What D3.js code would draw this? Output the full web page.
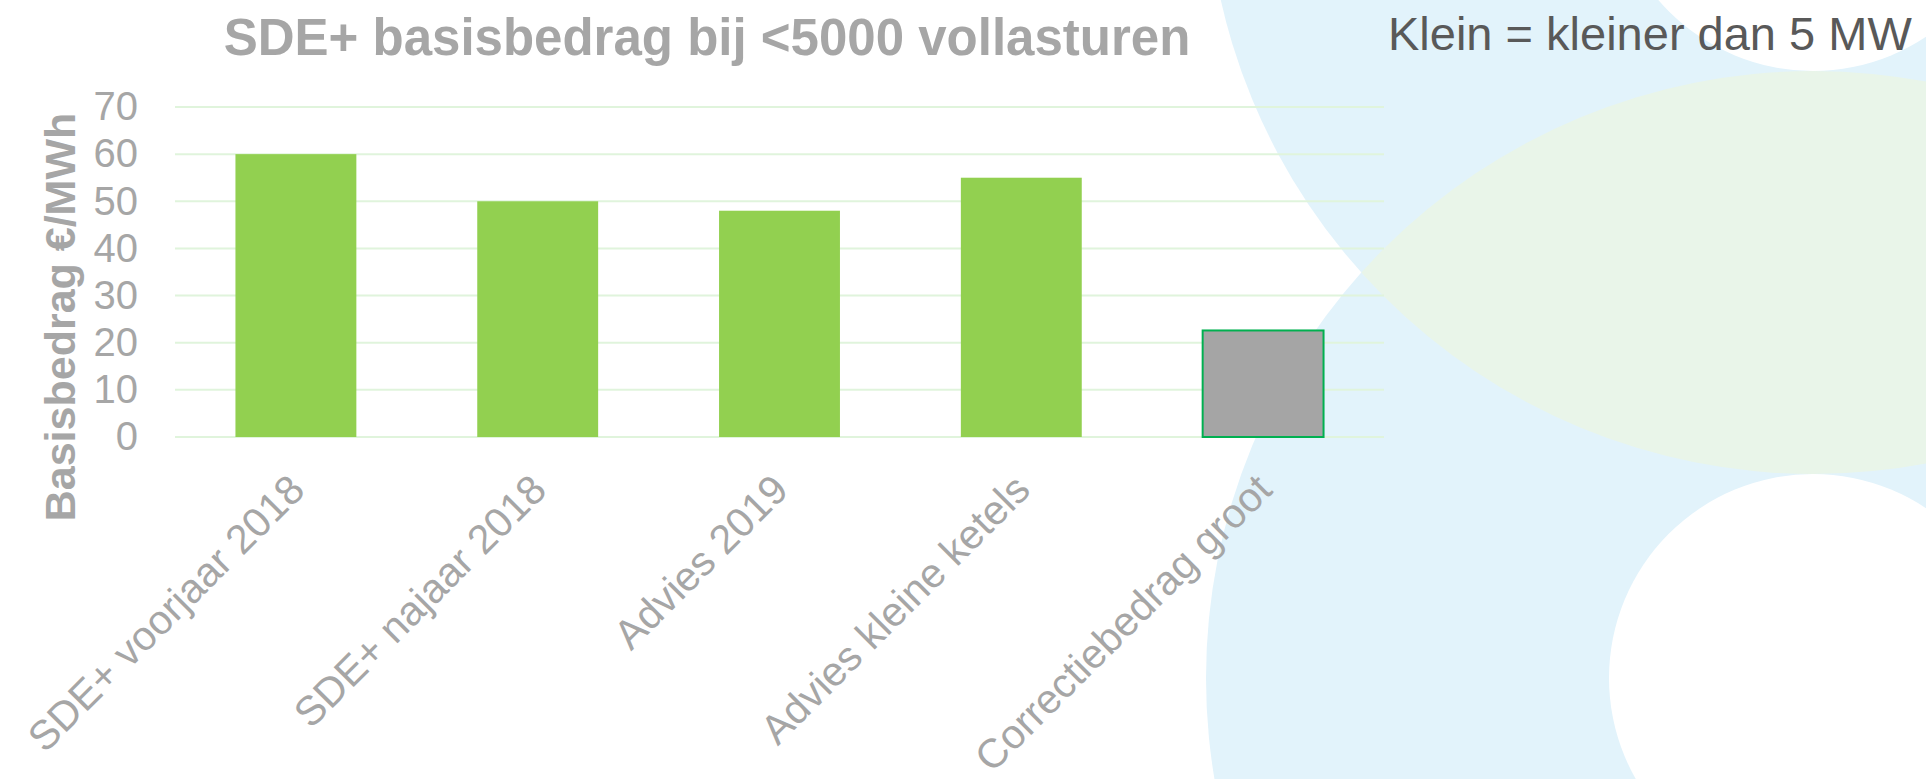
<!DOCTYPE html>
<html>
<head>
<meta charset="utf-8">
<script src="https://cdn.jsdelivr.net/npm/d3@7"></script>
<style>
  body { margin: 0; background: #fff; }
  svg { display: block; font-family: "Liberation Sans", Arial, sans-serif; }
</style>
</head>
<body>
<div id="chart"></div>
<script>
var categories = ["SDE+ voorjaar 2018", "SDE+ najaar 2018", "Advies 2019", "Advies kleine ketels", "Correctiebedrag groot"];
var values = [60, 50, 48, 55, 22.6];
var barColors = ["#92d050", "#92d050", "#92d050", "#92d050", "#a5a5a5"];
var yTicks = [0, 10, 20, 30, 40, 50, 60, 70];

var width = 1926,
    height = 779;

var svg = d3.select("#chart")
    .append("svg")
    .attr("width", width)
    .attr("height", height);

// background decoration: two rings and the lens where they overlap
var deco = { cx: 1813, top: -133, bottom: 678, r: 607, inner: 204 };
var defs = svg.append("defs");
defs.append("clipPath").attr("id", "upperClip")
    .append("circle").attr("cx", deco.cx).attr("cy", deco.top).attr("r", deco.r);

svg.append("circle").attr("cx", deco.cx).attr("cy", deco.top).attr("r", deco.r).style("fill", "#e2f3fb");
svg.append("circle").attr("cx", deco.cx).attr("cy", deco.bottom).attr("r", deco.r).style("fill", "#e2f3fb");
svg.append("circle").attr("cx", deco.cx).attr("cy", deco.bottom).attr("r", deco.r)
    .attr("clip-path", "url(#upperClip)").style("fill", "#e9f5e9");
svg.append("circle").attr("cx", deco.cx).attr("cy", deco.top).attr("r", deco.inner).style("fill", "#fff");
svg.append("circle").attr("cx", deco.cx).attr("cy", deco.bottom).attr("r", deco.inner).style("fill", "#fff");

var plotLeft = 175, plotRight = 1384, plotTop = 107, plotBottom = 437;

var xScale = d3.scaleBand()
    .domain(categories)
    .range([plotLeft, plotRight])
    .paddingInner(0.5)
    .paddingOuter(0.25);

var yScale = d3.scaleLinear().domain([0, 70]).range([plotBottom, plotTop]);

// gridlines
svg.append("g")
    .selectAll("line")
    .data(yTicks)
    .enter()
    .append("line")
    .attr("x1", plotLeft)
    .attr("x2", plotRight)
    .attr("y1", function (d) { return yScale(d); })
    .attr("y2", function (d) { return yScale(d); })
    .style("stroke", "#e0f4dc")
    .style("stroke-width", 2);

// y axis labels
var yAxis = d3.axisLeft(yScale).tickValues(yTicks).tickSize(0).tickPadding(0);
var yg = svg.append("g")
    .attr("transform", "translate(138,0)")
    .call(yAxis);
yg.select(".domain").remove();
yg.selectAll("text")
    .style("font-size", "40px")
    .style("font-family", "'Liberation Sans', Arial, sans-serif")
    .style("fill", "#a6a6a6");

// bars
svg.append("g")
    .selectAll("rect")
    .data(values)
    .enter()
    .append("rect")
    .attr("x", function (d, i) { return xScale(categories[i]); })
    .attr("y", function (d) { return yScale(d); })
    .attr("width", xScale.bandwidth())
    .attr("height", function (d) { return plotBottom - yScale(d); })
    .style("fill", function (d, i) { return barColors[i]; })
    .style("stroke", function (d, i) { return i === 4 ? "#00b050" : "none"; })
    .style("stroke-width", 2);

// category labels
svg.append("g")
    .selectAll("text")
    .data(categories)
    .enter()
    .append("text")
    .attr("transform", function (d) {
        return "translate(" + (xScale(d) + xScale.bandwidth() / 2 + 11) + ",492) rotate(-45)";
    })
    .attr("text-anchor", "end")
    .style("font-size", "41px")
    .style("fill", "#a6a6a6")
    .text(function (d) { return d; });

// axis title
svg.append("text")
    .attr("transform", "translate(75,317) rotate(-90)")
    .attr("text-anchor", "middle")
    .style("font-size", "43px")
    .style("font-weight", "bold")
    .style("fill", "#a6a6a6")
    .text("Basisbedrag €/MWh");

// chart title
svg.append("text")
    .attr("x", 707)
    .attr("y", 55)
    .attr("text-anchor", "middle")
    .style("font-size", "51px")
    .style("font-weight", "bold")
    .style("fill", "#a6a6a6")
    .text("SDE+ basisbedrag bij <5000 vollasturen");

// note
svg.append("text")
    .attr("x", 1388)
    .attr("y", 50)
    .style("font-size", "47px")
    .style("fill", "#595959")
    .text("Klein = kleiner dan 5 MW");
</script>
</body>
</html>
